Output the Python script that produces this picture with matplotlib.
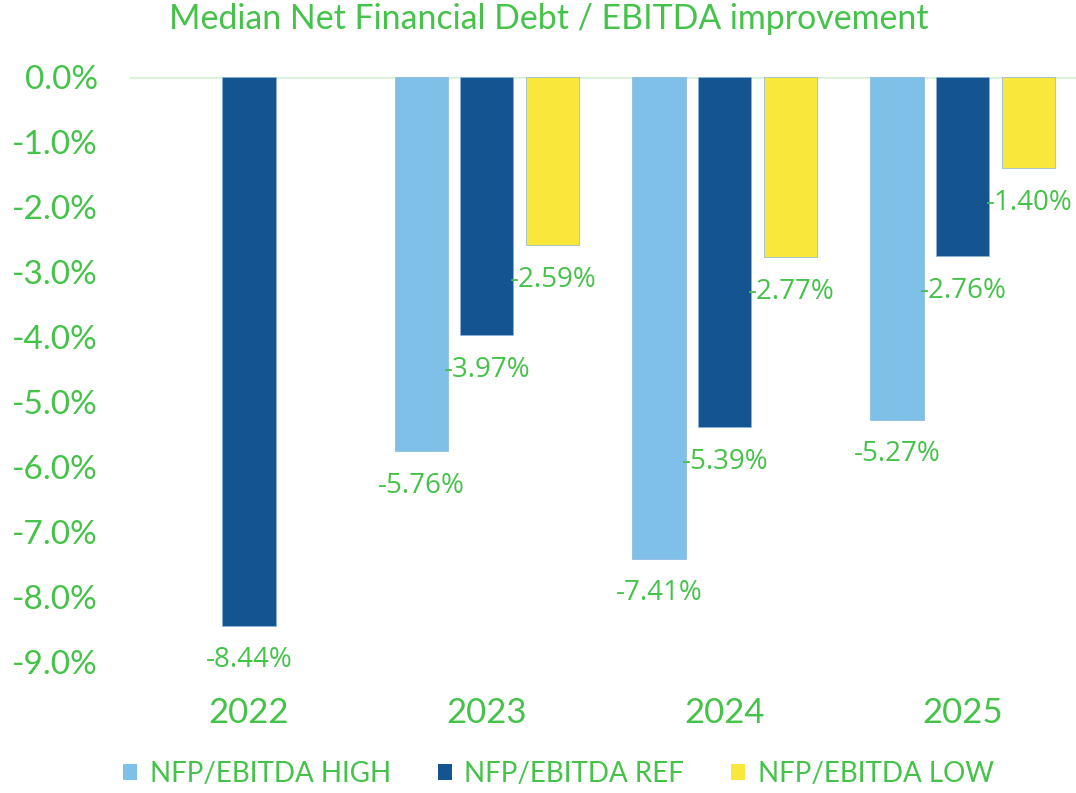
import numpy as np
import matplotlib
matplotlib.use("Agg")
from matplotlib import pyplot as plt

# Dados
years = ['2022', '2023', '2024', '2025']
high = [np.nan, -5.76, -7.41, -5.27]
ref = [-8.44, -3.97, -5.39, -2.76]
low = [np.nan, -2.59, -2.77, -1.40]
series_names = ['NFP/EBITDA HIGH', 'NFP/EBITDA REF', 'NFP/EBITDA LOW']
yticks = [0, -1, -2, -3, -4, -5, -6, -7, -8, -9]

green = '#45c249'
colors = ['#7fc0e8', '#145591', '#f9e73c']
narrow = ['Lato', 'DejaVu Sans']
label_font = ['Open Sans', 'DejaVu Sans']

fig = plt.figure(figsize=(10.76, 7.93), dpi=100)
ax = fig.add_axes([0.1208, 0.1652, 0.8847, 0.7377])

x = np.arange(len(years))
width = 0.223
offset = 0.277

for i, (vals, color, name) in enumerate(zip([high, ref, low], colors, series_names)):
    pos = x + (i - 1) * offset
    ax.bar(pos, vals, width, color=color, label=name,
           edgecolor='#8ab4dc', linewidth=0.5)
    for xp, v in zip(pos, vals):
        if np.isnan(v):
            continue
        ax.annotate(f'{v:.2f}%', (xp, v), xytext=(0, -25), textcoords='offset points',
                    ha='center', va='center', color=green, fontsize=20,
                    family=label_font, clip_on=False)

ax.axhline(0, color='#d3f1d3', linewidth=1.8, zorder=0)

ax.set_xlim(-0.5, 3.5)
ax.set_ylim(-9.0, 0)
ax.set_yticks(yticks)
ax.set_yticklabels([f'{t:.1f}%' for t in yticks], family=narrow, fontsize=24, color=green)
ax.set_xticks(x)
ax.set_xticklabels(years, family=narrow, fontsize=25, color=green)
ax.tick_params(axis='both', length=0)
ax.tick_params(axis='x', pad=25)
ax.tick_params(axis='y', pad=23)
for s in ax.spines.values():
    s.set_visible(False)

fig.text(0.51, 0.976, 'Median Net Financial Debt / EBITDA improvement', ha='center', va='center',
         color=green, fontsize=24.4, family=narrow)

leg = fig.legend(loc='center', bbox_to_anchor=(0.519, 0.024), ncol=3, frameon=False,
                 prop={'family': narrow, 'size': 20}, handlelength=0.5, handleheight=0.5,
                 handletextpad=0.45, columnspacing=1.7)
for t in leg.get_texts():
    t.set_color(green)
for h in leg.legend_handles:
    h.set_linewidth(0)

fig.savefig('out.png', dpi=100)
